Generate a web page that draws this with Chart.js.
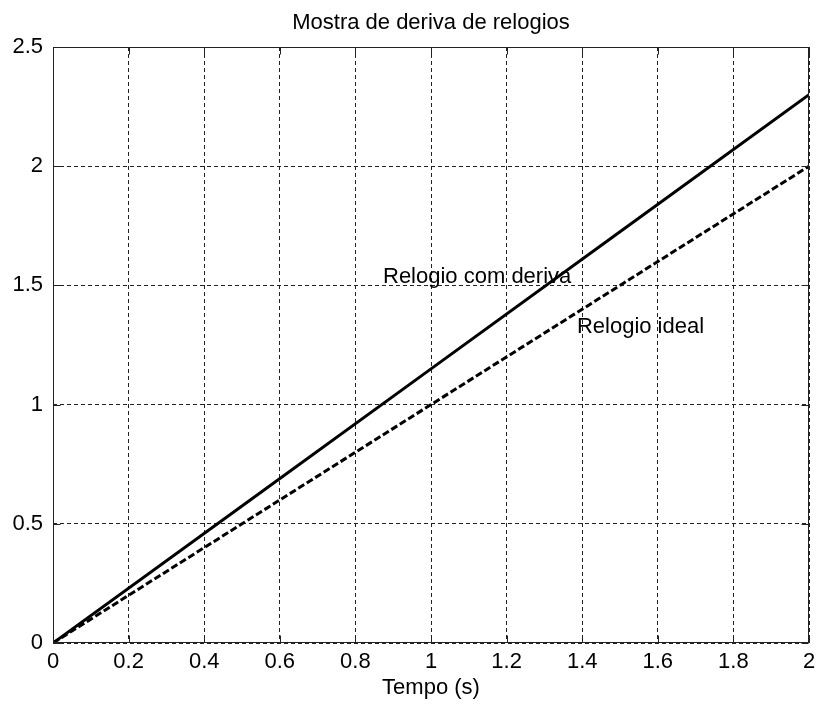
<!DOCTYPE html>
<html>
<head>
    <title>Mostra de deriva de relogios</title>
    <script src="https://cdn.jsdelivr.net/npm/chart.js"></script>
    <style>
        body {
            margin: 0;
            background: #fff;
            overflow: hidden;
        }
        .chart-container {
            width: 816px;
            height: 709px;
        }
    </style>
</head>
<body>
    <div class="chart-container">
        <canvas id="driftChart"></canvas>
    </div>

    <script>
// values
const tempo = [0, 0.5, 1, 1.5, 2];
const relogioIdeal = [0, 0.5, 1, 1.5, 2];
const relogioDeriva = [0, 0.575, 1.15, 1.725, 2.3];

const titleText = 'Mostra de deriva de relogios';
const xTitle = 'Tempo (s)';
// text notes placed in data coordinates
const notes = [
    { text: 'Relogio com deriva', x: 0.873, y: 1.51 },
    { text: 'Relogio ideal', x: 1.386, y: 1.30 }
];

const FONT = '"Liberation Sans", Arial, sans-serif';

function toPoints(xs, ys) {
    return xs.map((x, i) => ({ x: x, y: ys[i] }));
}

// 0.6000000000000001 -> "0.6", 2.0 -> "2"
function tickLabel(value) {
    return String(parseFloat(Number(value).toFixed(2)));
}

// box, inner tick marks, title and text notes (matlab look)
const matlabPlugin = {
    id: 'matlabPlugin',
    afterDraw(chart) {
        const ctx = chart.ctx;
        const area = chart.chartArea;
        const xs = chart.scales.x;
        const ys = chart.scales.y;
        const l = Math.round(area.left) + 0.5, r = Math.round(area.right) - 0.5;
        const t = Math.round(area.top) + 0.5, b = Math.round(area.bottom) - 0.5;

        ctx.save();
        ctx.strokeStyle = '#222';
        ctx.lineWidth = 1;
        ctx.setLineDash([]);
        ctx.strokeRect(l, t, r - l, b - t);

        ctx.beginPath();
        xs.ticks.forEach(tk => {
            const px = Math.round(xs.getPixelForValue(tk.value)) + 0.5;
            ctx.moveTo(px, b); ctx.lineTo(px, b - 7);
            ctx.moveTo(px, t); ctx.lineTo(px, t + 7);
        });
        ys.ticks.forEach(tk => {
            const py = Math.round(ys.getPixelForValue(tk.value)) + 0.5;
            ctx.moveTo(l, py); ctx.lineTo(l + 7, py);
            ctx.moveTo(r, py); ctx.lineTo(r - 7, py);
        });
        ctx.stroke();

        ctx.fillStyle = '#000';
        ctx.font = '22px ' + FONT;
        ctx.textAlign = 'center';
        ctx.textBaseline = 'alphabetic';
        ctx.fillText(titleText, (area.left + area.right) / 2, 29);

        ctx.textAlign = 'left';
        notes.forEach(n => {
            ctx.fillText(n.text, xs.getPixelForValue(n.x), ys.getPixelForValue(n.y));
        });
        ctx.restore();
    }
};

const ctx = document.getElementById('driftChart').getContext('2d');
new Chart(ctx, {
    type: 'line',
    data: {
        datasets: [{
            label: 'Relogio com deriva',
            data: toPoints(tempo, relogioDeriva),
            borderColor: '#000',
            borderWidth: 3,
            pointRadius: 0,
            fill: false
        }, {
            label: 'Relogio ideal',
            data: toPoints(tempo, relogioIdeal),
            borderColor: '#000',
            borderWidth: 3,
            borderDash: [7, 3],
            pointRadius: 0,
            fill: false
        }]
    },
    options: {
        responsive: true,
        maintainAspectRatio: false,
        animation: false,
        layout: {
            autoPadding: false,
            padding: { left: 0, right: 7, top: 47, bottom: 0 }
        },
        plugins: {
            legend: { display: false },
            tooltip: { enabled: false },
            title: { display: false }
        },
        scales: {
            x: {
                type: 'linear',
                min: 0,
                max: 2,
                ticks: {
                    stepSize: 0.2,
                    color: '#000',
                    padding: 6,
                    maxRotation: 0,
                    font: { family: FONT, size: 22 },
                    callback: tickLabel
                },
                grid: {
                    color: '#222',
                    lineWidth: 1,
                    drawTicks: false,
                    tickLength: 0
                },
                border: { display: false, dash: [4, 3] },
                title: {
                    display: true,
                    text: xTitle,
                    color: '#000',
                    font: { family: FONT, size: 22 },
                    padding: { top: 0, bottom: 8 }
                },
                afterFit(scale) {
                    scale.height = 66;
                    scale.paddingLeft = 0;
                    scale.paddingRight = 0;
                }
            },
            y: {
                min: 0,
                max: 2.5,
                ticks: {
                    stepSize: 0.5,
                    color: '#000',
                    padding: 10,
                    font: { family: FONT, size: 22 },
                    callback: tickLabel
                },
                grid: {
                    color: '#222',
                    lineWidth: 1,
                    drawTicks: false,
                    tickLength: 0
                },
                border: { display: false, dash: [4, 3] },
                afterFit(scale) {
                    scale.width = 53;
                    scale.paddingTop = 0;
                    scale.paddingBottom = 0;
                }
            }
        }
    },
    plugins: [matlabPlugin]
});
</script>
</body>
</html>
